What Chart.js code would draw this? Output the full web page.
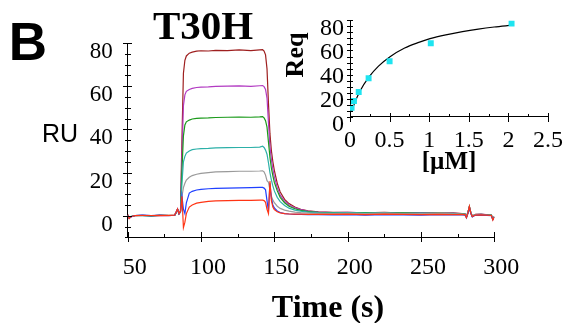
<!DOCTYPE html>
<html lang="en">
<head>
<meta charset="UTF-8">
<title>T30H sensorgram</title>
<script src="https://cdn.jsdelivr.net/npm/chart.js@4"></script>
<style>
  html, body { margin: 0; padding: 0; background: #fff; }
  #wrap { position: relative; width: 573px; height: 323px; overflow: hidden; }
  #wrap canvas { position: absolute; left: 0; top: 0; }
  .lbl { position: absolute; line-height: 1; white-space: nowrap; color: #000; transform: translateX(-50%); }
  .serif { font-family: "Liberation Serif", "Times New Roman", serif; font-weight: bold; }
  .sans { font-family: "Liberation Sans", Arial, sans-serif; }
</style>
</head>
<body>
<div id="wrap">
  <canvas id="main" width="573" height="323"></canvas>
  <canvas id="inset" width="573" height="323"></canvas>
  <div class="lbl sans" style="left:28px; top:15px; font-size:53px; font-weight:bold;">B</div>
  <div class="lbl serif" style="left:203px; top:5px; font-size:41px;">T30H</div>
  <div class="lbl sans" style="left:60px; top:121px; font-size:25px;">RU</div>
  <div class="lbl serif" style="left:328px; top:290px; font-size:32px;">Time (s)</div>
  <div class="lbl serif" style="left:295px; top:55px; font-size:26px; transform: translate(-50%, -50%) rotate(-90deg);">Req</div>
</div>

<script>
// sensorgram: shared time axis (s) and response (RU) per injection
const time = [50, 51, 52, 55, 60, 66, 72, 78, 82, 83, 84, 85, 86, 87, 88, 89, 90, 92, 94, 97,
              100, 105, 110, 118, 126, 134, 140, 142, 143, 144, 145, 146, 147, 148, 149, 150, 152, 154, 157, 160,
              164, 168, 173, 180, 190, 200, 212, 225, 238, 250, 262, 272, 278, 280, 281, 282, 283, 284, 285, 287,
              291, 295, 298, 299, 300];

const ruBrown = [0.4, -1.1, -0.5, 0.1, 0.2, -0.1, 0.3, 0.1, 0.3, 1.6, 3.0, 0.9, 2.0,
                 36, 66, 72, 74, 75.3, 75.8, 76.2, 76.4, 76.3, 76.6, 76.5, 76.8, 76.5, 76.8, 76.9,
                 76.3, 74.5, 68, 52, 38, 30, 25, 21, 15, 11, 7.6, 5.6, 4, 3, 2.3, 1.8,
                 1.5, 1.6, 1.3, 1.5, 1.2, 1.4, 1.1, 1.3, 1.0, 0.9, -0.4, 1.6, 4.0, 1.4, -0.2, 0.6, 0.7, 0.4, 0.3, -1.4, -0.4];
const ruPurple = [0.3, -1.2, -0.6, 0.0, 0.3, 0.0, 0.2, 0.0, 0.2, 1.5, 3.1, 0.8, 1.8,
                  28, 51, 56, 57.6, 58.5, 59, 59.4, 59.6, 59.7, 59.9, 60, 60.1, 59.9, 60.2, 60.3,
                  59.8, 58.5, 54.5, 43, 32, 26, 21.5, 18, 13, 9.5, 6.7, 5, 3.6, 2.8, 2.1, 1.7,
                  1.4, 1.5, 1.3, 1.4, 1.1, 1.3, 1.2, 1.1, 1.0, 0.8, -0.5, 1.5, 4.1, 1.5, -0.3, 0.5, 0.6, 0.5, 0.2, -1.5, -0.5];
const ruGreen = [0.2, -1.0, -0.5, 0.1, 0.1, -0.1, 0.2, 0.1, 0.1, 1.4, 2.9, 0.9, 1.7,
                 21, 37, 42, 43.5, 44.3, 44.8, 45.1, 45.2, 45.3, 45.5, 45.6, 45.7, 45.6, 45.8, 45.9,
                 45.3, 44, 41, 34, 27, 22, 18.5, 15.5, 11.5, 8.5, 6, 4.4, 3.2, 2.5, 1.9, 1.6,
                 1.4, 1.3, 1.4, 1.2, 1.3, 1.1, 1.2, 1.0, 1.0, 0.8, -0.6, 1.4, 4.2, 1.3, -0.3, 0.5, 0.5, 0.4, 0.3, -1.6, -0.5];
const ruTeal = [0.3, -1.1, -0.4, 0.0, 0.2, 0.0, 0.1, 0.2, 0.1, 1.3, 2.8, 1.0, 1.6,
                15, 25, 27.5, 29, 30, 30.6, 30.9, 31.1, 31.2, 31.4, 31.5, 31.6, 31.6, 31.8, 32.2,
                31.6, 30.4, 28.5, 24.5, 20, 16.5, 13.8, 11.5, 8.5, 6.5, 4.7, 3.5, 2.6, 2.1, 1.7, 1.4,
                1.3, 1.4, 1.2, 1.3, 1.1, 1.2, 1.0, 1.1, 0.9, 0.8, -0.5, 1.5, 4.0, 1.4, -0.2, 0.5, 0.6, 0.4, 0.2, -1.4, -0.5];
const ruGray = [0.2, -1.0, -0.5, 0.1, 0.0, 0.1, 0.2, 0.0, 0.2, 1.4, 2.9, 1.1, 1.8,
                9, 13, 15, 16.5, 17.8, 18.6, 19.2, 19.6, 20, 20.3, 20.4, 20.6, 20.6, 20.7, 20.8,
                20.3, 18.8, 16.2, 15.5, 12, 9, 7.2, 6, 4.4, 3.4, 2.6, 2.1, 1.7, 1.4, 1.2, 1.1,
                1.0, 1.1, 1.0, 1.2, 0.9, 1.0, 1.1, 0.9, 0.8, 0.7, -0.5, 1.4, 4.1, 1.3, -0.3, 0.5, 0.5, 0.3, 0.2, -1.5, -0.4];
const ruBlue = [0.3, -1.2, -0.6, 0.1, 0.2, 0.0, 0.2, 0.1, 0.2, 1.5, 3.0, 1.0, 2.0,
                9, 3, 1, 6, 10.5, 11.3, 11.9, 12.2, 12.5, 12.7, 12.8, 12.9, 13.0, 13.1, 13.1,
                12.8, 12, 7, 2, 15, 8, 5, 3.6, 2.2, 1.5, 1.0, 0.8, 0.6, 0.6, 0.5, 0.5,
                0.4, 0.5, 0.3, 0.5, 0.4, 0.3, 0.5, 0.4, 0.4, 0.3, -1.0, 1.0, 3.8, 1.0, -0.6, 0.2, 0.3, 0.2, 0.0, -1.8, -0.7];
const ruRed = [0.4, -1.3, -0.5, 0.0, 0.1, 0.1, 0.0, 0.2, 0.3, 1.6, 3.1, 1.0, 2.2,
               9, -5.5, -3, 1, 4, 5, 5.8, 6.2, 6.6, 6.9, 7.0, 7.1, 7.1, 7.2, 7.2,
               7.0, 6.2, 3, 1.0, 16, 7, 4, 2.8, 1.8, 1.3, 1.0, 0.8, 0.7, 0.7, 0.6, 0.6,
               0.6, 0.7, 0.5, 0.7, 0.6, 0.5, 0.6, 0.5, 0.6, 0.5, -0.9, 1.2, 4.3, 1.2, -0.4, 0.3, 0.4, 0.3, 0.1, -2.0, -0.6];

const curves = [ruBrown, ruPurple, ruGreen, ruTeal, ruGray, ruBlue, ruRed];
const curveColors = ['#9e1f1f', '#b23ac2', '#1a9a1a', '#2cb0a8', '#9a9a9a', '#1f40ff', '#ff3414'];

const timeTicks = [50, 100, 150, 200, 250, 300];
const ruTicks = [0, 20, 40, 60, 80];

// steady-state binding vs concentration
const conc = [2.04, 1.02, 0.5, 0.235, 0.11, 0.05, 0.02];
const req = [77.5, 61, 46, 32, 20.5, 13.1, 7.4];
const fitConc = [0.02, 0.06, 0.12, 0.24, 0.36, 0.51, 0.69, 0.85, 1.01, 1.21, 1.42, 1.62, 1.82, 2.04];
const fitReq = [4.5, 11.5, 20.5, 33, 42, 50, 57, 61.3, 64.8, 68, 70.7, 72.8, 74.5, 76];

const concTicks = [0, 0.5, 1, 1.5, 2, 2.5];
const reqTicks = [0, 20, 40, 60, 80];

const serif = 'Liberation Serif';

// tick marks that cross the axis line (out / in lengths in px)
function tickMarks(spec) {
  return {
    id: 'tickMarks',
    afterDraw(chart) {
      const ctx = chart.ctx;
      ctx.save();
      ctx.strokeStyle = '#000';
      ctx.lineWidth = 1;
      ctx.beginPath();
      for (const [id, s] of Object.entries(spec)) {
        const scale = chart.scales[id];
        const n = Math.round((scale.max - scale.min) / s.minor);
        for (let i = 0; i <= n; i++) {
          const v = scale.min + i * s.minor;
          const q = v / s.major;
          const isMajor = Math.abs(q - Math.round(q)) < 1e-6;
          const [out, inn] = isMajor ? s.majorLen : s.minorLen;
          const p = Math.round(scale.getPixelForValue(v)) + 0.5;
          if (scale.isHorizontal()) {
            const y0 = Math.round(scale.top);
            ctx.moveTo(p, y0 + out);
            ctx.lineTo(p, y0 - inn);
          } else {
            const x0 = Math.round(scale.right);
            ctx.moveTo(x0 - out, p);
            ctx.lineTo(x0 + inn, p);
          }
        }
      }
      ctx.stroke();
      ctx.restore();
    }
  };
}

const setTicks = vals => scale => { scale.ticks = vals.map(v => ({ value: v })); };

new Chart(document.getElementById('main'), {
  type: 'line',
  data: {
    datasets: curves.map((vals, k) => ({
      data: time.map((t, i) => ({ x: t, y: vals[i] })),
      borderColor: curveColors[k],
      borderWidth: 1.2,
      pointRadius: 0,
      tension: 0,
      order: curves.length - k
    }))
  },
  options: {
    responsive: false,
    animation: false,
    layout: { padding: { left: 0, right: 78.7, top: 43, bottom: 0 } },
    plugins: { legend: { display: false }, tooltip: { enabled: false } },
    scales: {
      x: {
        type: 'linear', min: 50, max: 300,
        afterBuildTicks: setTicks(timeTicks),
        afterFit: s => { s.height = 85.7; },
        grid: { display: false, drawTicks: false },
        border: { color: '#000', width: 1 },
        ticks: { padding: 16, labelOffset: 7, autoSkip: false, maxRotation: 0, color: '#000',
                 font: { family: serif, size: 24 } }
      },
      y: {
        type: 'linear', min: -10, max: 80,
        afterBuildTicks: setTicks(ruTicks),
        afterFit: s => { s.width = 127.7; },
        grid: { display: false, drawTicks: false },
        border: { color: '#000', width: 1 },
        ticks: { padding: 15, labelOffset: 9, autoSkip: false, color: '#000',
                 font: { family: serif, size: 23 } }
      }
    }
  },
  plugins: [tickMarks({
    x: { minor: 25, major: 50, majorLen: [5, 5], minorLen: [1, 3] },
    y: { minor: 5, major: 20, majorLen: [5, 4], minorLen: [3, 3] }
  })]
});

new Chart(document.getElementById('inset'), {
  type: 'scatter',
  data: {
    datasets: [
      {
        data: conc.map((c, i) => ({ x: c, y: req[i] })),
        pointStyle: 'rect',
        pointRadius: 4.2,
        pointBorderWidth: 0,
        backgroundColor: '#1ee4f0',
        borderColor: '#1ee4f0',
        order: 0
      },
      {
        data: fitConc.map((c, i) => ({ x: c, y: fitReq[i] })),
        showLine: true,
        borderColor: '#000',
        borderWidth: 1.2,
        pointRadius: 0,
        cubicInterpolationMode: 'monotone',
        order: 1
      }
    ]
  },
  options: {
    responsive: false,
    animation: false,
    layout: { padding: { left: 279.4, right: 17, top: 15, bottom: 145.6 } },
    plugins: { legend: { display: false }, tooltip: { enabled: false } },
    scales: {
      x: {
        type: 'linear', min: 0, max: 2.5,
        afterBuildTicks: setTicks(concTicks),
        afterFit: s => { s.height = 60.7; },
        grid: { display: false, drawTicks: false },
        border: { color: '#000', width: 1 },
        title: { display: true, text: '[\u00b5M]', color: '#000', padding: 0,
                 font: { family: serif, size: 25, weight: 'bold' } },
        ticks: { padding: 10, autoSkip: false, maxRotation: 0, color: '#000',
                 callback: v => String(v), font: { family: serif, size: 24 } }
      },
      y: {
        type: 'linear', min: 0, max: 80,
        afterBuildTicks: setTicks(reqTicks),
        afterFit: s => { s.width = 70.6; },
        grid: { display: false, drawTicks: false },
        border: { color: '#000', width: 1 },
        ticks: { padding: 6, labelOffset: 8, autoSkip: false, color: '#000',
                 font: { family: serif, size: 24 } }
      }
    }
  },
  plugins: [tickMarks({
    x: { minor: 0.25, major: 0.5, majorLen: [5, 4], minorLen: [0, 3] },
    y: { minor: 5, major: 20, majorLen: [3, 3], minorLen: [3, 3] }
  })]
});
</script>
</body>
</html>
